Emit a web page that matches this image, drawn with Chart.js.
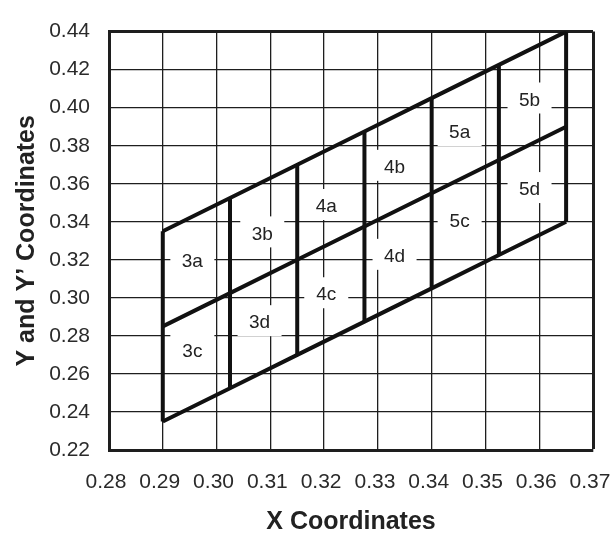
<!DOCTYPE html>
<html>
<head>
<meta charset="utf-8">
<script src="https://cdn.jsdelivr.net/npm/chart.js"></script>
<style>
    html, body { margin: 0; padding: 0; background: #fff; }
    #wrap { width: 611px; height: 535px; }
</style>
</head>
<body>
<div id="wrap"><canvas id="chart"></canvas></div>
<script>
// tick values
const xTickValues = [0.28, 0.29, 0.30, 0.31, 0.32, 0.33, 0.34, 0.35, 0.36, 0.37];
const yTickValues = [0.22, 0.24, 0.26, 0.28, 0.30, 0.32, 0.34, 0.36, 0.38, 0.40, 0.42, 0.44];

// column positions of the zone grid and the three sloped lines at those columns
const columnX = [0.29, 0.3025, 0.315, 0.3275, 0.34, 0.3525, 0.365];
const upperY = [0.335, 0.3525, 0.37, 0.3875, 0.405, 0.4225, 0.44];
const middleY = [0.285, 0.3025, 0.32, 0.3375, 0.355, 0.3725, 0.39];
const lowerY = [0.235, 0.2525, 0.27, 0.2875, 0.305, 0.3225, 0.34];

// zone labels
const zoneNames = ['3a', '3b', '3c', '3d', '4a', '4b', '4c', '4d', '5a', '5b', '5c', '5d'];
const zoneX = [0.2955, 0.3085, 0.2955, 0.3080, 0.3204, 0.3331, 0.3204, 0.3331, 0.3452, 0.3582, 0.3452, 0.3582];
const zoneY = [0.3197, 0.3339, 0.2723, 0.2872, 0.3483, 0.3689, 0.3019, 0.3221, 0.3871, 0.4043, 0.3407, 0.3572];

const FONT = "'Liberation Sans', Arial, Helvetica, sans-serif";
const LINE = '#111';

function lineSet(xs, ys) {
    return {
        data: xs.map((x, i) => ({ x: x, y: ys[i] })),
        showLine: true,
        borderColor: LINE,
        borderWidth: 4,
        pointRadius: 0,
        fill: false
    };
}

const datasets = [
    lineSet(columnX, upperY),
    lineSet(columnX, middleY),
    lineSet(columnX, lowerY)
];
// vertical zone boundaries
columnX.forEach((x, i) => {
    datasets.push(lineSet([x, x], [lowerY[i], upperY[i]]));
});

// white boxes with zone names, drawn over the grid but under the lines
const zoneLabels = {
    id: 'zoneLabels',
    beforeDatasetsDraw(chart) {
        const ctx = chart.ctx;
        const xs = chart.scales.x, ys = chart.scales.y;
        ctx.save();
        ctx.font = '19px ' + FONT;
        ctx.textAlign = 'center';
        ctx.textBaseline = 'middle';
        zoneNames.forEach((name, i) => {
            const px = xs.getPixelForValue(zoneX[i]);
            const py = ys.getPixelForValue(zoneY[i]);
            ctx.fillStyle = '#fff';
            ctx.fillRect(px - 22, py - 17, 44, 31);
            ctx.fillStyle = '#222';
            ctx.fillText(name, px, py + 1);
        });
        ctx.restore();
    }
};

const gridColor = '#1e1e1e';

new Chart(document.getElementById('chart').getContext('2d'), {
    type: 'scatter',
    data: { datasets: datasets },
    plugins: [zoneLabels],
    options: {
        responsive: true,
        maintainAspectRatio: false,
        animation: false,
        layout: { padding: { top: 14, right: 18, bottom: 0, left: 0 } },
        plugins: {
            legend: { display: false },
            tooltip: { enabled: false }
        },
        scales: {
            x: {
                type: 'linear',
                min: 0.28,
                max: 0.37,
                afterBuildTicks: s => { s.ticks = xTickValues.map(v => ({ value: v })); },
                afterFit: s => { s.height = 85; s.paddingLeft = 0; s.paddingRight = 0; },
                ticks: {
                    padding: 20,
                    labelOffset: -3,
                    color: '#2a2a2a',
                    font: { family: FONT, size: 21 },
                    callback: v => v.toFixed(2)
                },
                grid: {
                    color: gridColor,
                    drawTicks: false,
                    lineWidth: c => (c.index === xTickValues.length - 1 ? 3 : 1.3)
                },
                border: { display: true, color: gridColor, width: 3 },
                title: {
                    display: true,
                    text: 'X Coordinates',
                    color: '#222',
                    padding: { top: 0, bottom: 0 },
                    font: { family: FONT, size: 25, weight: 'bold', lineHeight: 1 }
                }
            },
            y: {
                type: 'linear',
                min: 0.22,
                max: 0.44,
                afterBuildTicks: s => { s.ticks = yTickValues.map(v => ({ value: v })); },
                afterFit: s => { s.width = 109; },
                ticks: {
                    padding: 19,
                    color: '#2a2a2a',
                    font: { family: FONT, size: 21 },
                    callback: v => v.toFixed(2)
                },
                grid: {
                    color: gridColor,
                    drawTicks: false,
                    lineWidth: c => (c.index === yTickValues.length - 1 ? 3 : 1.3)
                },
                border: { display: true, color: gridColor, width: 3 },
                title: {
                    display: true,
                    text: 'Y and Y’ Coordinates',
                    color: '#222',
                    padding: { top: 12, bottom: 0 },
                    font: { family: FONT, size: 25, weight: 'bold', lineHeight: 1.2 }
                }
            }
        }
    }
});
</script>
</body>
</html>
